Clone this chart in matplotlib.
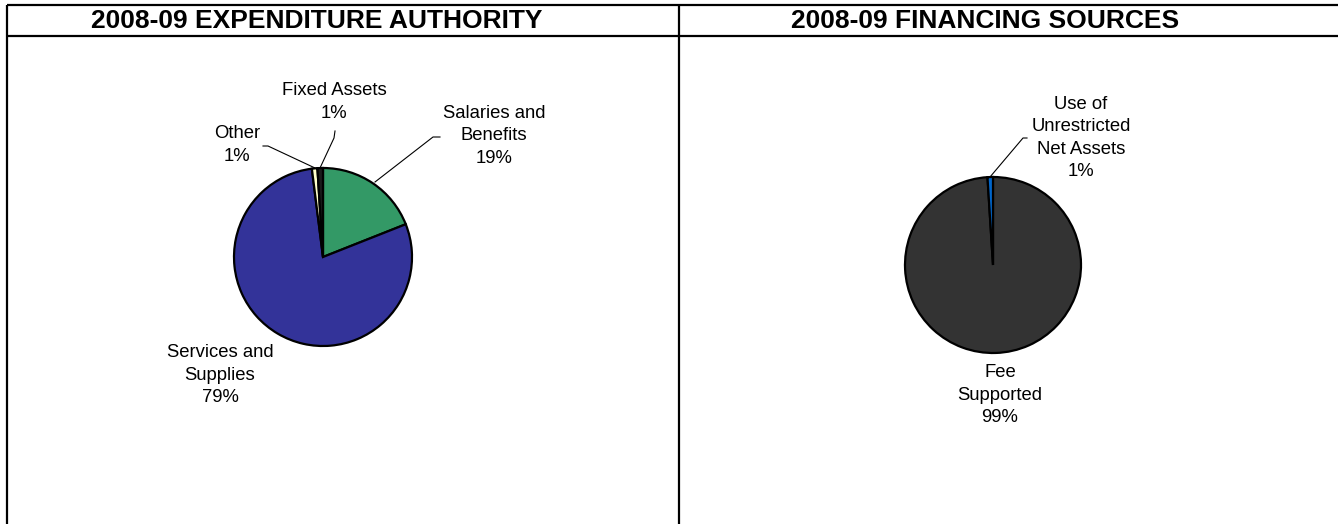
import matplotlib
matplotlib.use("Agg")
import matplotlib.pyplot as plt

plt.rcParams['font.family'] = ['Liberation Sans', 'DejaVu Sans']

W, H = 1338, 524

# Data
titles = ["2008-09 EXPENDITURE AUTHORITY", "2008-09 FINANCING SOURCES"]
exp_labels = ["Salaries and\nBenefits", "Services and\nSupplies", "Other", "Fixed Assets"]
exp_values = [19, 79, 1, 1]
exp_pct = ["19%", "79%", "1%", "1%"]
exp_colors = ["#339966", "#333399", "#FFFFCC", "#1a1a1a"]

fin_labels = ["Fee\nSupported", "Use of\nUnrestricted\nNet Assets"]
fin_values = [99, 1]
fin_pct = ["99%", "1%"]
fin_colors = ["#333333", "#0066CC"]

fig = plt.figure(figsize=(W / 100, H / 100), dpi=100)
ax = fig.add_axes([0, 0, 1, 1])


def Y(y):
    return H - y


wp = dict(edgecolor="black", linewidth=1.6)
ax.pie(exp_values, colors=exp_colors, startangle=90, counterclock=False,
       center=(323, Y(257)), radius=89, wedgeprops=wp, frame=True)
ax.pie(fin_values, colors=fin_colors, startangle=90, counterclock=False,
       center=(993, Y(265)), radius=88, wedgeprops=wp, frame=True)

ax.set_xlim(0, W)
ax.set_ylim(0, H)
ax.set_aspect('equal')
ax.axis('off')

# Frame lines
lw = 1.6
ax.plot([7, W], [Y(5), Y(5)], color="black", lw=lw, solid_capstyle='butt')
ax.plot([7, W], [Y(36), Y(36)], color="black", lw=lw, solid_capstyle='butt')
ax.plot([7, 7], [Y(5), 0], color="black", lw=lw, solid_capstyle='butt')
ax.plot([679, 679], [Y(5), 0], color="black", lw=lw, solid_capstyle='butt')

# Titles
ax.text(317, Y(21), titles[0], ha='center', va='center', fontsize=19, fontweight='bold')
ax.text(985, Y(21), titles[1], ha='center', va='center', fontsize=19, fontweight='bold')

fs = 13.3
ls = 1.42


def lab(x, y, s):
    ax.text(x, Y(y), s, ha='center', va='center', fontsize=fs, linespacing=ls)


# Left pie labels
lab(494, 136, exp_labels[0] + "\n" + exp_pct[0])
lab(220, 375, exp_labels[1] + "\n" + exp_pct[1])
lab(237, 145, exp_labels[2] + "\n" + exp_pct[2])
lab(334, 102, exp_labels[3] + "\n" + exp_pct[3])

# Right pie labels
lab(1000, 395, fin_labels[0] + "\n" + fin_pct[0])
lab(1081, 138, fin_labels[1] + "\n" + fin_pct[1])


def leader(pts):
    xs = [p[0] for p in pts]
    ys = [Y(p[1]) for p in pts]
    ax.plot(xs, ys, color="black", lw=0.8)


leader([(440, 137), (433, 137), (375, 182)])
leader([(263, 146), (268, 146), (315, 168)])
leader([(335, 131), (334, 138), (320, 168)])
leader([(1027, 138), (1023, 138), (990, 177)])

fig.savefig("out.png", dpi=100)
